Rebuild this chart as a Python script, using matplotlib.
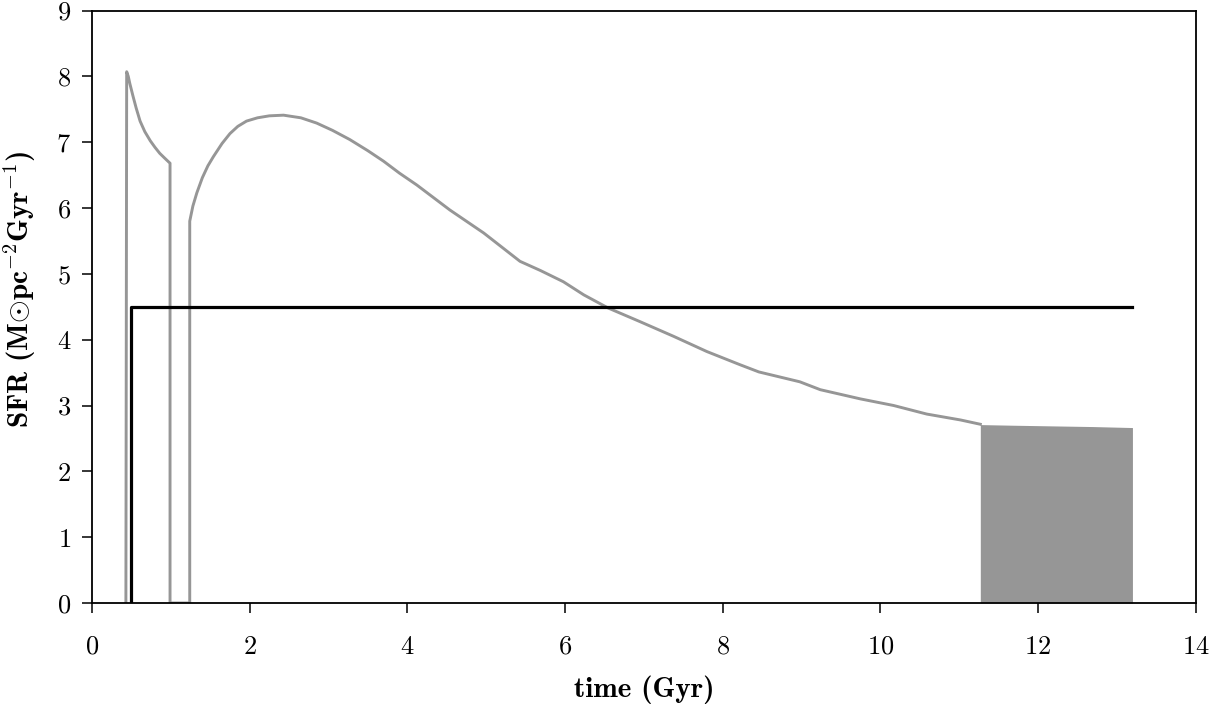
import numpy as np
import matplotlib
matplotlib.use('Agg')
import matplotlib.pyplot as plt

# SFR curve (grey)
t_sfr = [0.43, 0.44, 0.46, 0.48, 0.52, 0.56, 0.61, 0.67, 0.74, 0.80, 0.86,
         0.92, 0.99, 0.99, 1.24, 1.24, 1.28, 1.33, 1.40, 1.47, 1.54, 1.65,
         1.75, 1.85, 1.96, 2.1, 2.25, 2.43, 2.65, 2.85, 3.05, 3.27, 3.50,
         3.70, 3.90, 4.12, 4.54, 4.97, 5.43, 5.69, 5.98, 6.24, 6.55, 6.95,
         7.38, 7.80, 8.22, 8.46, 8.98, 9.24, 9.75, 10.17, 10.59, 11.02, 11.27]
sfr = [0, 8.07, 8.00, 7.89, 7.70, 7.52, 7.32, 7.16, 7.02, 6.92, 6.83,
       6.76, 6.68, 0, 0, 5.80, 6.03, 6.23, 6.46, 6.64, 6.78, 6.98,
       7.13, 7.24, 7.32, 7.37, 7.40, 7.41, 7.37, 7.29, 7.18, 7.04, 6.87,
       6.71, 6.53, 6.35, 5.97, 5.62, 5.19, 5.05, 4.88, 4.68, 4.48, 4.275,
       4.05, 3.82, 3.62, 3.51, 3.36, 3.24, 3.10, 3.00, 2.87, 2.78, 2.715]

# fast oscillating part at the end (drawn as a solid block)
t_burst = [11.27, 11.7, 12.2, 12.7, 13.2]
sfr_burst = [2.71, 2.70, 2.69, 2.68, 2.665]

# constant SFR model (black)
t_const = [0.5, 0.5, 13.2]
sfr_const = [0, 4.5, 4.5]

plt.rcParams['mathtext.fontset'] = 'cm'
plt.rcParams['axes.formatter.use_mathtext'] = True

fig = plt.figure(figsize=(12.09, 7.13), dpi=100)
ax = fig.add_axes([92/1209, 110/713, 1103.5/1209, 592.5/713])

grey = '#969696'
ax.plot(t_sfr, sfr, color=grey, lw=2.1)
ax.fill_between(t_burst, 0, sfr_burst, color=grey, lw=0)
ax.plot(t_const, sfr_const, color='black', lw=2.3)

ax.set_xlim(0, 14)
ax.set_ylim(0, 9)
ax.set_xticks(np.arange(0, 15, 2))
ax.set_yticks(np.arange(0, 10, 1))

for s in ax.spines.values():
    s.set_linewidth(1.3)
ax.tick_params(axis='both', direction='out', length=7, width=1.1, labelsize=19)
ax.tick_params(axis='x', pad=16)
ax.tick_params(axis='y', pad=8)
for lab in ax.get_xticklabels() + ax.get_yticklabels():
    lab.set_fontfamily('cmr10')

ax.set_xlabel('time (Gyr)', fontfamily='cmb10', fontsize=21, labelpad=12)
ax.set_ylabel(r'SFR (M$\odot$pc$^{-2}$Gyr$^{-1}$)', fontfamily='cmb10',
              fontsize=21)
ax.yaxis.set_label_coords(-0.049, 0.53)

plt.savefig('out.png', dpi=100)
